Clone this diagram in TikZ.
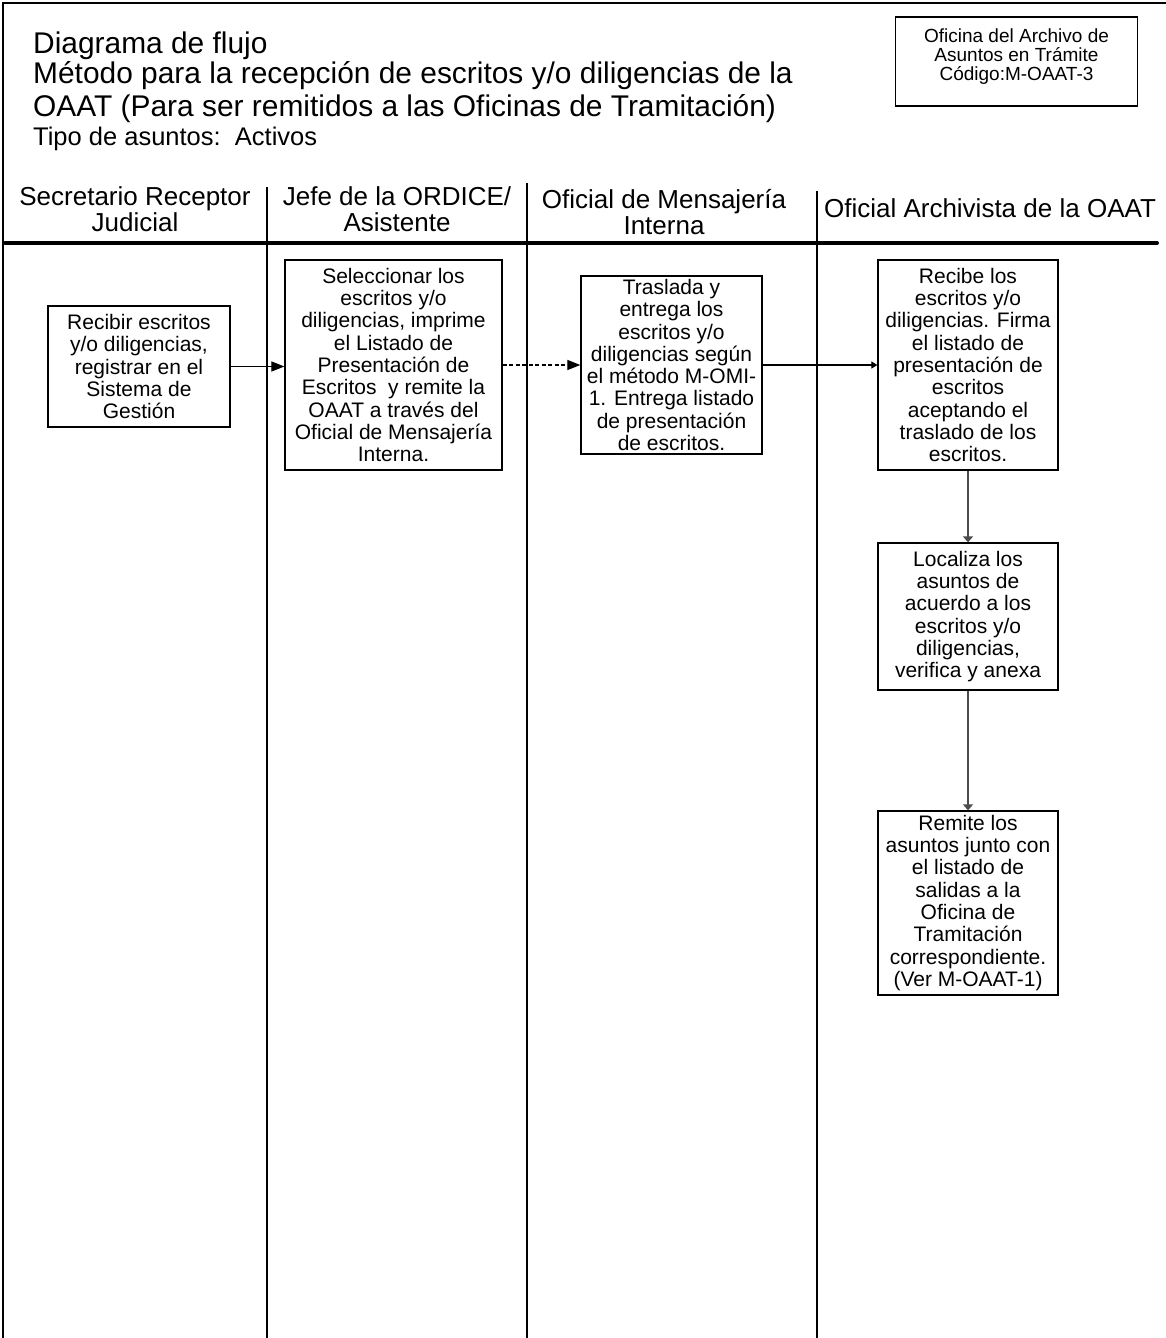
\documentclass[tikz,border=0pt]{standalone}
\usepackage{fontspec}
\setmainfont{Liberation Sans}
\usetikzlibrary{arrows.meta}
\begin{document}
\begin{tikzpicture}[x=1pt,y=-1pt,
  box/.style={draw, line width=1.3pt, align=center, inner sep=0pt, font=\fontsize{21}{22.3}\selectfont},
  lanehead/.style={align=center, inner sep=0pt, font=\fontsize{26}{25.5}\selectfont},
  titletext/.style={anchor=base west, inner sep=0pt, font=\fontsize{29.9}{30}\selectfont},
  lane/.style={line width=1.4pt},
  bigarrow/.style={line width=1.2pt, -{Triangle[length=13pt,width=10pt]}},
  smallarrow/.style={line width=1.2pt, -{Triangle[length=6pt,width=7pt]}},
  vertarrow/.style={line width=1.4pt, draw=black!70, -{Triangle[length=6pt,width=10pt]}}
]
\useasboundingbox (0,0) rectangle (1166,1338);
\fill[white] (0,0) rectangle (1166,1338);
% frame
\draw[line width=1.5pt] (3,1338) -- (3,3) -- (1166,3);
% title
\node[titletext] (t1) at (33,53) {Diagrama de flujo};
\node[titletext] (t2) at (33,83) {Método para la recepción de escritos y/o diligencias de la};
\node[titletext] (t3) at (33,116) {OAAT (Para ser remitidos a las Oficinas de Tramitación)};
\node[titletext, font=\fontsize{25.5}{26}\selectfont] (t4) at (33,145) {Tipo de asuntos:\ \ Activos};
% info box
\node[draw, line width=1.2pt, minimum width=242pt, minimum height=89pt, inner sep=0pt] (info) at (1016.5,61.5) {};
\node[align=center, inner sep=0pt, font=\fontsize{19}{18.8}\selectfont] (infotext) at (1016.5,56.5) {Oficina del Archivo de\\Asuntos en Trámite\\Código:M-OAAT-3};
% lane headers
\node[lanehead] (h1) at (135,209) {Secretario Receptor\\Judicial};
\node[lanehead] (h2) at (397,209) {Jefe de la ORDICE/\\Asistente};
\node[lanehead] (h3) at (664,212) {Oficial de Mensajería\\Interna};
\node[lanehead] (h4) at (990,208) {Oficial Archivista de la OAAT};
% lane lines
\coordinate (l1t) at (267,187); \coordinate (l1b) at (267,1338);
\coordinate (l2t) at (527,183); \coordinate (l2b) at (527,1338);
\coordinate (l3t) at (817,191); \coordinate (l3b) at (817,1338);
\draw[lane] (l1t) -- (l1b);
\draw[lane] (l2t) -- (l2b);
\draw[lane] (l3t) -- (l3b);
\coordinate (hl) at (5,243); \coordinate (hr) at (1157,243);
\draw[line width=4pt, line cap=round] (hl) -- (hr);
% boxes
\node[box, minimum width=182pt, minimum height=121pt] (A) at (139,366.5)
  {Recibir escritos\\y/o diligencias,\\registrar en el\\Sistema de\\Gestión};
\node[box, minimum width=217pt, minimum height=210pt] (B) at (393.5,365)
  {Seleccionar los\\escritos y/o\\diligencias, imprime\\el Listado de\\Presentación de\\Escritos\ \ y remite la\\OAAT a través del\\Oficial de Mensajería\\Interna.};
\node[box, minimum width=181pt, minimum height=178pt] (C) at (671.5,365)
  {Traslada y\\entrega los\\escritos y/o\\diligencias según\\el método M-OMI-\\1. Entrega listado\\de presentación\\de escritos.};
\node[box, minimum width=180pt, minimum height=210pt] (D) at (968,365)
  {Recibe los\\escritos y/o\\diligencias. Firma\\el listado de\\presentación de\\escritos\\aceptando el\\traslado de los\\escritos.};
\node[box, minimum width=180pt, minimum height=147pt] (E) at (968,616.5)
  {Localiza los\\asuntos de\\acuerdo a los\\escritos y/o\\diligencias,\\verifica y anexa};
\node[box, minimum width=180pt, minimum height=184pt] (F) at (968,903)
  {Remite los\\asuntos junto con\\el listado de\\salidas a la\\Oficina de\\Tramitación\\correspondiente.\\(Ver M-OAAT-1)};
% connectors
\draw[bigarrow] (A.east) -- (A.east -| B.west);
\draw[bigarrow, dashed, dash pattern=on 4pt off 2.5pt] (B.east) -- (C.west);
\draw[smallarrow] (C.east) -- (D.west);
\draw[vertarrow] (D.south) -- (E.north);
\draw[vertarrow] (E.south) -- (F.north);
\end{tikzpicture}
\end{document}
